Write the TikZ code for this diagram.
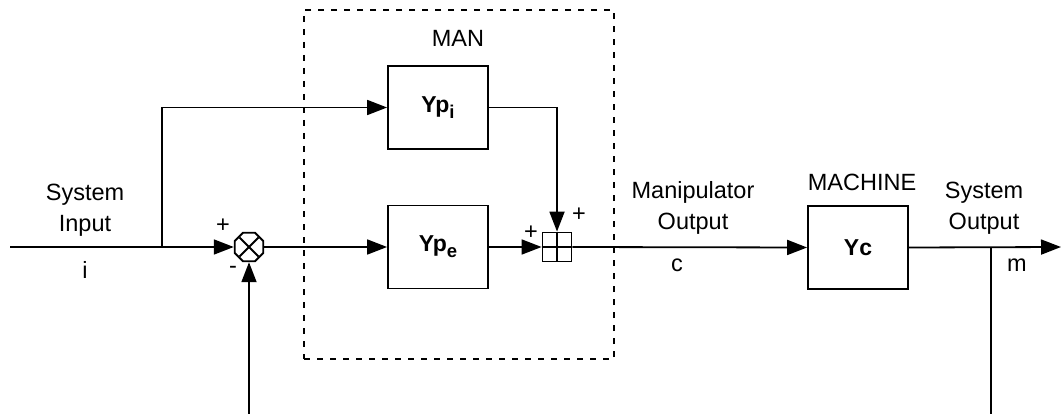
\documentclass[tikz,border=0pt]{standalone}
\usepackage{fontspec}
\setmainfont{Liberation Sans}
\usetikzlibrary{arrows.meta,shapes.geometric}
\begin{document}
\begin{tikzpicture}[x=1pt,y=-1pt,
  every node/.style={font=\fontsize{23.5}{31}\selectfont},
  line/.style={line width=1.8pt},
  arr/.style={line width=1.8pt,-{Triangle[length=20pt,width=15pt]}},
  blk/.style={draw,line width=1.8pt,minimum width=100pt,minimum height=83pt,inner sep=0pt,font=\fontsize{23}{26}\selectfont\bfseries},
  lbl/.style={align=center,inner sep=0pt}]
\path[use as bounding box] (0,0) rectangle (1062,414);
% dashed MAN box
\node[draw,line width=1.6pt,dash pattern=on 6pt off 7pt,minimum width=310pt,minimum height=349pt,inner sep=0pt] (manbox) at (459,184.5) {};
% blocks
\node[blk] (ypi) at (438,107.5) {Yp\raisebox{-6pt}{\fontsize{18.5}{18.5}\selectfont\bfseries i}};
\node[blk] (ype) at (438,247) {Yp\raisebox{-6pt}{\fontsize{18.5}{18.5}\selectfont\bfseries e}};
\node[blk] (yc) at (858,247.5) {Yc};
% summing junction
\node[draw,regular polygon,regular polygon sides=8,minimum size=31pt,inner sep=0pt,line width=1.8pt] (sum) at (249,247) {};
\draw[line] (sum.center) ++(-9.5,-9.5) -- ++(19,19);
\draw[line] (sum.center) ++(-9.5,9.5) -- ++(19,-19);
% adder
\node[draw,minimum size=29pt,inner sep=0pt,line width=1.8pt] (add) at (557,247) {};
\draw[line] (add.north) -- (add.south);
\draw[line] (add.west) -- (add.east);
% coordinates
\coordinate (ins) at (10,247);
\coordinate (br) at (162,247);
\coordinate (fb) at (249,414);
\coordinate (out) at (1061,247);
\coordinate (ob) at (991,247);
\coordinate (obe) at (991,414);
% connectors
\draw[arr] (ins) -- (sum.west);
\draw[arr] (br) |- (ypi.west);
\draw[arr] (sum.east) -- (ype.west);
\draw[arr] (ype.east) -- (add.west);
\draw[arr] (ypi.east) -| (add.north);
\draw[arr] (add.east) -- (yc.west);
\draw[arr] (yc.east) -- (out);
\draw[line] (ob) -- (obe);
\draw[arr] (fb) -- (sum.south);
% labels
\node[lbl] (sysin) at (85,210) {System\\Input};
\node[lbl] (li) at (85,270) {i};
\node[lbl] (p1) at (223,226) {+};
\node[lbl] (m1) at (233,270) {-};
\node[lbl] (man) at (458,38) {MAN};
\node[lbl] (p2) at (531,233) {+};
\node[lbl] (p3) at (579,215) {+};
\node[lbl] (mo) at (693,208) {Manipulator\\Output};
\node[lbl] (lc) at (677,265) {c};
\node[lbl] (mach) at (862,182) {MACHINE};
\node[lbl] (so) at (984,208) {System\\Output};
\node[lbl] (lm) at (1017,265) {m};
\end{tikzpicture}
\end{document}
